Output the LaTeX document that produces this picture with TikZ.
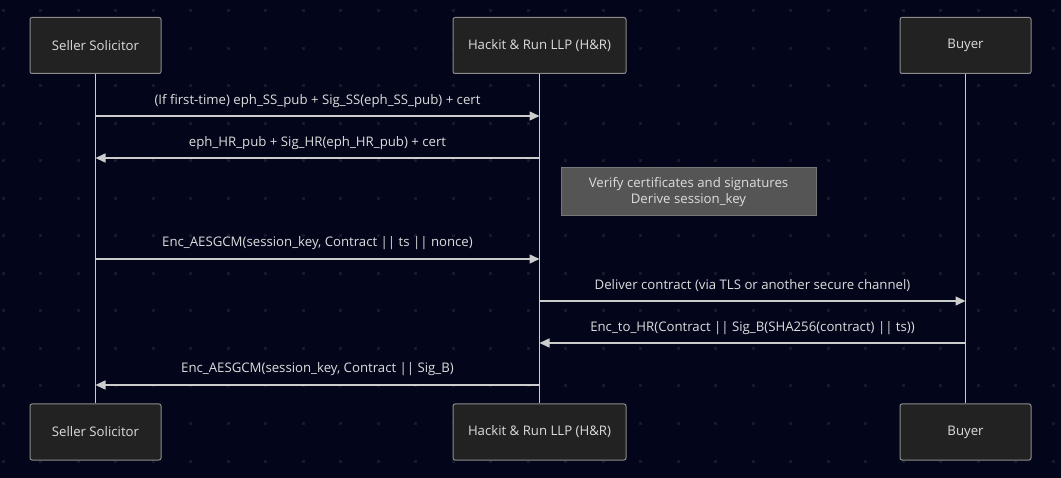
\documentclass[tikz,border=0pt]{standalone}
\usepackage{fontspec}
\setmainfont{Open Sans}
\usetikzlibrary{arrows.meta,positioning,calc}

\definecolor{bgnavy}{HTML}{03061A}
\definecolor{dotgray}{HTML}{161928}
\definecolor{actorfill}{HTML}{222222}
\definecolor{actorline}{HTML}{8C8C8C}
\definecolor{notefill}{HTML}{555555}
\definecolor{noteline}{HTML}{777777}
\definecolor{wire}{HTML}{CCCCCC}
\definecolor{txt}{HTML}{DDDDDD}

\tikzset{
  actor/.style={draw=actorline, fill=actorfill, rounded corners=2pt,
    line width=1pt, text=txt, font=\fontsize{13.2}{16}\selectfont,
    minimum height=56pt, inner sep=0pt},
  lifeline/.style={wire, line width=1.5pt},
  msg/.style={wire, line width=1.5pt, -{Triangle[length=10pt,width=9pt]}},
  msglabel/.style={text=txt, font=\fontsize{13.2}{16}\selectfont, inner sep=0pt},
  notebox/.style={draw=noteline, fill=notefill, line width=1pt,
    text=txt, font=\fontsize{13.2}{16}\selectfont, align=center,
    minimum width=255pt, minimum height=48pt, inner sep=0pt}
}

\begin{document}
\begin{tikzpicture}[x=1pt,y=-1pt]

  % canvas and dot grid
  \fill[bgnavy] (0,0) rectangle (1061,478);
  \useasboundingbox (0,0) rectangle (1061,478);
  \foreach \i in {0,...,28}
    \foreach \j in {0,...,12}
      \fill[dotgray] (3+37.5*\i-1.5, 11+37.5*\j-1.5) rectangle +(3,3);

  % participants
  \node[actor, minimum width=131pt] (ss)  at (95.5,45.5)  {Seller Solicitor};
  \node[actor, minimum width=173pt] (hr)  at (539.5,45.5) {Hackit \& Run LLP (H\&R)};
  \node[actor, minimum width=131pt] (buy) at (965.5,45.5) {Buyer};

  \node[actor, minimum width=131pt] (ssB)  at (95.5,432)  {Seller Solicitor};
  \node[actor, minimum width=173pt] (hrB)  at (539.5,432) {Hackit \& Run LLP (H\&R)};
  \node[actor, minimum width=131pt] (buyB) at (965.5,432) {Buyer};

  % lifelines
  \draw[lifeline] (ss.south) -- (ssB.north);
  \draw[lifeline] (hr.south) -- (hrB.north);
  \draw[lifeline] (buy.south) -- (buyB.north);

  % message points on the lifelines
  \foreach \k/\y in {1/116,2/158,3/259,4/301,5/343,6/385} {
    \coordinate (ss\k)  at (ss.south |- 0,\y);
    \coordinate (hr\k)  at (hr.south |- 0,\y);
    \coordinate (buy\k) at (buy.south |- 0,\y);
  }

  % messages
  \draw[msg] (ss1) -- (hr1) node[msglabel, midway, yshift=14.5pt]
    {(If first-time) eph\_SS\_pub + Sig\_SS(eph\_SS\_pub) + cert};
  \draw[msg] (hr2) -- (ss2) node[msglabel, midway, yshift=14.5pt]
    {eph\_HR\_pub + Sig\_HR(eph\_HR\_pub) + cert};

  \node[notebox] (verify) at (688.5,192)
    {Verify certificates and signatures\\Derive session\_key};

  \draw[msg] (ss3) -- (hr3) node[msglabel, midway, yshift=15.5pt]
    {Enc\_AESGCM(session\_key, Contract || ts || nonce)};
  \draw[msg] (hr4) -- (buy4) node[msglabel, midway, yshift=15.5pt]
    {Deliver contract (via TLS or another secure channel)};
  \draw[msg] (buy5) -- (hr5) node[msglabel, midway, yshift=14.5pt]
    {Enc\_to\_HR(Contract || Sig\_B(SHA256(contract) || ts))};
  \draw[msg] (hr6) -- (ss6) node[msglabel, midway, yshift=15.5pt]
    {Enc\_AESGCM(session\_key, Contract || Sig\_B)};

\end{tikzpicture}
\end{document}
